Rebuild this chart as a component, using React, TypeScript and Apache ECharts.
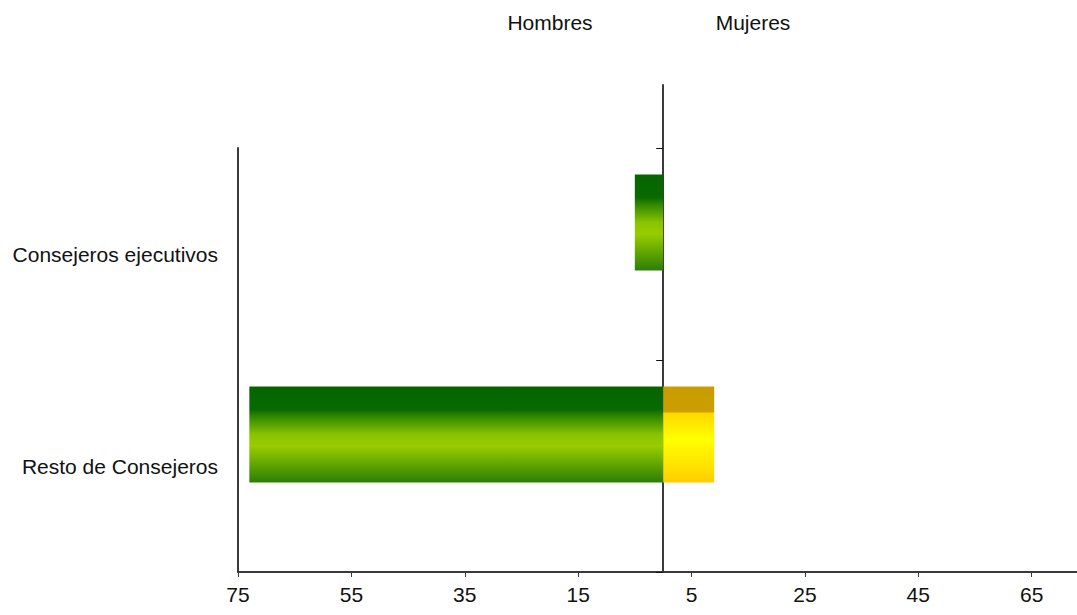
import React, { useEffect, useRef } from "react";
import * as echarts from "echarts";

const categories = ["Consejeros ejecutivos", "Resto de Consejeros"];
const hombres = [-5, -73];
const mujeres = [0, 9];
const sideTitles = ["Hombres", "Mujeres"];
const axisMin = -75;
const axisMax = 73;
const axisStep = 20;

const FONT = "'Liberation Sans', Arial, Helvetica, sans-serif";
const AXIS_COLOR = "#3a3a3a";

export default function App() {
  const ref = useRef<HTMLDivElement>(null);

  useEffect(() => {
    if (!ref.current) return;
    const chart = echarts.init(ref.current, null, { renderer: "svg" });

    const greenGrad = new echarts.graphic.LinearGradient(0, 0, 0, 1, [
      { offset: 0, color: "#056400" },
      { offset: 0.24, color: "#086a00" },
      { offset: 0.3, color: "#2a8300" },
      { offset: 0.5, color: "#88c400" },
      { offset: 0.62, color: "#99cc00" },
      { offset: 0.82, color: "#5ea400" },
      { offset: 1, color: "#2c7d08" },
    ]);
    const yellowGrad = new echarts.graphic.LinearGradient(0, 0, 0, 1, [
      { offset: 0, color: "#c89c00" },
      { offset: 0.26, color: "#cc9e00" },
      { offset: 0.28, color: "#ffd800" },
      { offset: 0.55, color: "#ffff00" },
      { offset: 0.85, color: "#ffe000" },
      { offset: 1, color: "#ffcc00" },
    ]);

    chart.setOption({
      animation: false,
      backgroundColor: "#ffffff",
      textStyle: { fontFamily: FONT },
      graphic: [
        {
          type: "text",
          x: 550,
          y: 22,
          style: {
            text: sideTitles[0],
            font: `21px ${FONT}`,
            fill: "#111",
            textAlign: "center",
            textVerticalAlign: "middle",
          },
        },
        {
          type: "text",
          x: 753,
          y: 22,
          style: {
            text: sideTitles[1],
            font: `21px ${FONT}`,
            fill: "#111",
            textAlign: "center",
            textVerticalAlign: "middle",
          },
        },
      ],
      grid: [
        { left: 238, right: 0, top: 148, bottom: 43 },
        { left: 238, right: 0, top: 85, bottom: 43 },
      ],
      xAxis: [
        {
          type: "value",
          gridIndex: 0,
          min: axisMin,
          max: axisMax,
          interval: axisStep,
          axisLine: { show: true, onZero: false, lineStyle: { color: AXIS_COLOR, width: 2 } },
          axisTick: { show: true, length: 5, lineStyle: { color: AXIS_COLOR, width: 1 } },
          axisLabel: {
            formatter: (v: number) => String(Math.abs(v)),
            fontSize: 21,
            color: "#111",
            margin: 12,
            fontFamily: FONT,
            showMaxLabel: false,
          },
          splitLine: { show: false },
        },
        {
          type: "value",
          gridIndex: 1,
          min: axisMin,
          max: axisMax,
          show: false,
          axisLine: { onZero: false },
        },
      ],
      yAxis: [
        {
          type: "category",
          gridIndex: 0,
          inverse: true,
          data: categories,
          position: "left",
          axisLine: { show: true, onZero: false, lineStyle: { color: AXIS_COLOR, width: 2 } },
          axisTick: { show: false },
          axisLabel: { fontSize: 21, color: "#111", margin: 20, fontFamily: FONT },
        },
        {
          type: "category",
          gridIndex: 0,
          inverse: true,
          data: categories,
          position: "left",
          axisLine: { show: true, onZero: true, lineStyle: { color: AXIS_COLOR, width: 2 } },
          axisTick: { show: true, length: 7, lineStyle: { color: "#111", width: 1 } },
          axisLabel: { show: false },
        },
        {
          type: "value",
          gridIndex: 1,
          min: 0,
          max: 1,
          axisLine: { show: true, onZero: true, lineStyle: { color: AXIS_COLOR, width: 2 } },
          axisTick: { show: false },
          axisLabel: { show: false },
          splitLine: { show: false },
        },
      ],
      series: [
        {
          name: sideTitles[0],
          type: "bar",
          xAxisIndex: 0,
          yAxisIndex: 0,
          stack: "total",
          data: hombres,
          barWidth: 96,
          barGap: "0%",
          itemStyle: { color: greenGrad },
          silent: true,
        },
        {
          name: sideTitles[1],
          type: "bar",
          xAxisIndex: 0,
          yAxisIndex: 0,
          stack: "total",
          data: mujeres,
          barWidth: 96,
          barGap: "0%",
          itemStyle: { color: yellowGrad },
          silent: true,
        },
        {
          name: "spacer",
          type: "bar",
          xAxisIndex: 0,
          yAxisIndex: 0,
          stack: "spacer",
          data: categories.map(() => 0),
          barWidth: 63,
          barGap: "0%",
          itemStyle: { color: "rgba(0,0,0,0)" },
          silent: true,
        },
      ],
    });

    return () => chart.dispose();
  }, []);

  return (
    <div
      ref={ref}
      style={{ position: "fixed", left: 0, top: 0, width: 1077, height: 615, background: "#fff" }}
    />
  );
}
